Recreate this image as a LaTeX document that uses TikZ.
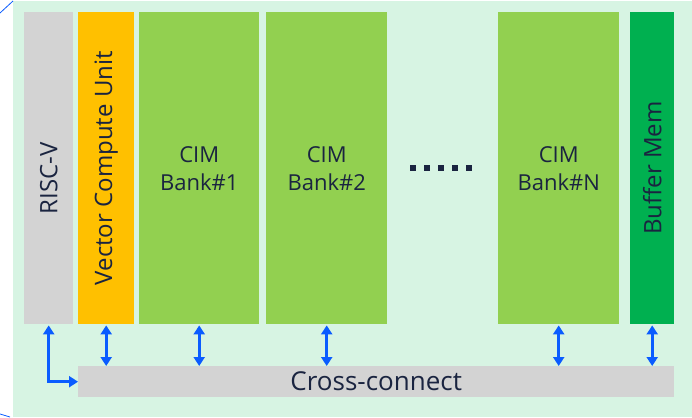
\documentclass[tikz,border=0pt]{standalone}
\usepackage{fontspec}
\setmainfont{Open Sans}
\usetikzlibrary{arrows.meta}
\definecolor{panel}{HTML}{D7F4E3}
\definecolor{greyblk}{HTML}{D3D3D3}
\definecolor{orangeblk}{HTML}{FFC000}
\definecolor{limeblk}{HTML}{92D050}
\definecolor{greenblk}{HTML}{00B050}
\definecolor{ink}{HTML}{1A2440}
\definecolor{link}{HTML}{0A5CFF}
\tikzset{
  x=1pt, y=-1pt,
  blk/.style={draw=none, inner sep=0pt, text=ink, font=\fontsize{22}{28}\selectfont, align=center},
  vtext/.style={text=ink, inner sep=0pt, rotate=90, font=\fontsize{24}{28}\selectfont},
  bus/.style={link, line width=2.8pt, {Triangle[width=11pt,length=9pt]}-{Triangle[width=11pt,length=9pt]}},
  dotbox/.style={fill=ink, minimum size=6pt, inner sep=0pt}
}
\begin{document}
\begin{tikzpicture}
\useasboundingbox (0,0) rectangle (692,417);
% backdrop
\fill[panel] (13,1) rectangle (692,417);
\draw[link, line width=0.8pt] (0,13) -- (13,1);
\draw[link, line width=0.8pt] (0,414) -- (10,417);
% processing blocks
\node[blk, fill=greyblk, minimum width=49pt, minimum height=312pt, anchor=north west] (risc) at (24,12) {};
\node[vtext] (risct) at ([yshift=-10pt]risc.center) {RISC-V};
\node[blk, fill=orangeblk, minimum width=56pt, minimum height=312pt, anchor=north west] (vcu) at (78,12) {};
\node[vtext] (vcut) at (vcu.center) {Vector Compute Unit};
\node[blk, fill=limeblk, minimum width=120pt, minimum height=312pt, anchor=north west] (cim1) at (139,12) {CIM\\Bank\#1};
\node[blk, fill=limeblk, minimum width=121pt, minimum height=312pt, anchor=north west] (cim2) at (266,12) {CIM\\Bank\#2};
\node[blk, fill=limeblk, minimum width=121pt, minimum height=312pt, anchor=north west] (cimn) at (498,12) {CIM\\Bank\#N};
\node[blk, fill=greenblk, minimum width=44pt, minimum height=312pt, anchor=north west] (buf) at (630,12) {};
\node[vtext] (buft) at (buf.center) {Buffer Mem};
% ellipsis
\foreach \i in {0,...,4} \node[dotbox] (d\i) at (413+14*\i,168) {};
% interconnect
\node[blk, fill=greyblk, minimum width=596pt, minimum height=31pt, anchor=north west, font=\fontsize{26}{30}\selectfont] (xc) at (78,366) {Cross-connect};
% links
\coordinate (rc) at (risc.south |- xc.west);
\draw[bus] (vcu.south) ++(0,1) coordinate (v1) -- (v1 |- xc.north);
\draw[bus] (cim1.south) ++(0,1) coordinate (c1) -- (c1 |- xc.north);
\draw[bus] (cim2.south) ++(0,1) coordinate (c2) -- (c2 |- xc.north);
\draw[bus] (cimn.south) ++(0,1) coordinate (cn) -- (cn |- xc.north);
\draw[bus] (buf.south) ++(0,1) coordinate (b1) -- (b1 |- xc.north);
\draw[bus] (risc.south) ++(0,1) coordinate (r1) -- (rc) -- (xc.west);
\end{tikzpicture}
\end{document}
